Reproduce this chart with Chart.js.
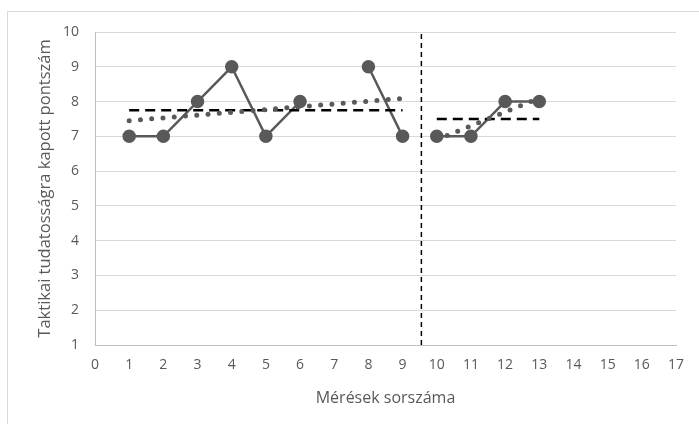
<!DOCTYPE html>
<html>
<head>
<meta charset="utf-8">
<script src="https://cdn.jsdelivr.net/npm/chart.js@4.4.1/dist/chart.umd.min.js"></script>
<style>
    html, body { margin: 0; padding: 0; background: #fff; }
    #wrap { width: 699px; height: 424px; }
</style>
</head>
<body>
<div id="wrap"><canvas id="chart" width="699" height="424"></canvas></div>
<script>
// phase A (1-9) and phase B (10-13), measurement 7 missing
const phaseAX = [1, 2, 3, 4, 5, 6, 7, 8, 9];
const phaseAScores = [7, 7, 8, 9, 7, 8, null, 9, 7];
const phaseBX = [10, 11, 12, 13];
const phaseBScores = [7, 7, 8, 8];

// mean lines
const phaseAMeanX = [1, 9];
const phaseAMean = [7.75, 7.75];
const phaseBMeanX = [10, 13];
const phaseBMean = [7.5, 7.5];

// linear trend lines
const phaseATrendX = [1, 9];
const phaseATrend = [7.45, 8.09];
const phaseBTrendX = [10, 13];
const phaseBTrend = [6.9, 8.1];

// phase divider
const dividerX = [9.55, 9.55];
const dividerY = [1, 10];

const xTicks = [0, 17];
const yTicks = [1, 10];

const toPoints = (xs, ys) => xs.map((x, i) => ({ x: x, y: ys[i] }));

const FONT = '"Open Sans", sans-serif';
const GRAY = '#595959';

const frame = {
    id: 'frame',
    afterDraw(chart) {
        const ctx = chart.ctx;
        ctx.save();
        ctx.strokeStyle = '#d9d9d9';
        ctx.lineWidth = 1;
        ctx.beginPath();
        ctx.moveTo(7.5, 424);
        ctx.lineTo(7.5, 11.5);
        ctx.lineTo(699, 11.5);
        ctx.stroke();
        ctx.restore();
    }
};

const lineSet = (xs, ys) => ({
    data: toPoints(xs, ys),
    showLine: true,
    spanGaps: false,
    borderColor: GRAY,
    backgroundColor: GRAY,
    borderWidth: 2.5,
    pointRadius: 5.5,
    pointHoverRadius: 5.5,
    order: 3
});

const meanSet = (xs, ys) => ({
    data: toPoints(xs, ys),
    showLine: true,
    borderColor: '#000',
    borderWidth: 2.5,
    borderDash: [10, 6],
    pointRadius: 0,
    order: 2
});

const trendSet = (xs, ys) => ({
    data: toPoints(xs, ys),
    showLine: true,
    borderColor: GRAY,
    borderWidth: 5,
    borderDash: [0, 11.3],
    borderCapStyle: 'round',
    pointRadius: 0,
    order: 1
});

new Chart(document.getElementById('chart'), {
    type: 'scatter',
    data: {
        datasets: [
            lineSet(phaseAX, phaseAScores),
            lineSet(phaseBX, phaseBScores),
            meanSet(phaseAMeanX, phaseAMean),
            meanSet(phaseBMeanX, phaseBMean),
            trendSet(phaseATrendX, phaseATrend),
            trendSet(phaseBTrendX, phaseBTrend),
            {
                data: toPoints(dividerX, dividerY),
                showLine: true,
                borderColor: '#000',
                borderWidth: 1.5,
                borderDash: [5, 4],
                pointRadius: 0,
                order: 4
            }
        ]
    },
    options: {
        responsive: false,
        animation: false,
        layout: { padding: { left: 35, top: 32, right: 23, bottom: 16 } },
        plugins: {
            legend: { display: false },
            tooltip: { enabled: false }
        },
        scales: {
            x: {
                type: 'linear',
                min: xTicks[0],
                max: xTicks[1],
                ticks: {
                    stepSize: 1,
                    color: GRAY,
                    padding: 12,
                    font: { family: FONT, size: 14 }
                },
                grid: { display: false, drawTicks: false },
                border: { display: true, color: '#bfbfbf', width: 1 },
                title: {
                    display: true,
                    text: 'Mérések sorszáma',
                    color: GRAY,
                    font: { family: FONT, size: 16 },
                    padding: { top: 8, bottom: 0 }
                },
                afterFit(scale) { scale.height = 63; }
            },
            y: {
                type: 'linear',
                min: yTicks[0],
                max: yTicks[1],
                ticks: {
                    stepSize: 1,
                    color: GRAY,
                    padding: 16,
                    font: { family: FONT, size: 14 }
                },
                grid: { color: '#d9d9d9', lineWidth: 1, drawTicks: false },
                border: { display: true, color: '#bfbfbf', width: 1 },
                title: {
                    display: true,
                    text: 'Taktikai tudatosságra kapott pontszám',
                    color: GRAY,
                    font: { family: FONT, size: 16.5 },
                    padding: { top: 0, bottom: 8 }
                },
                afterFit(scale) { scale.width = 60; }
            }
        }
    },
    plugins: [frame]
});
</script>
</body>
</html>
